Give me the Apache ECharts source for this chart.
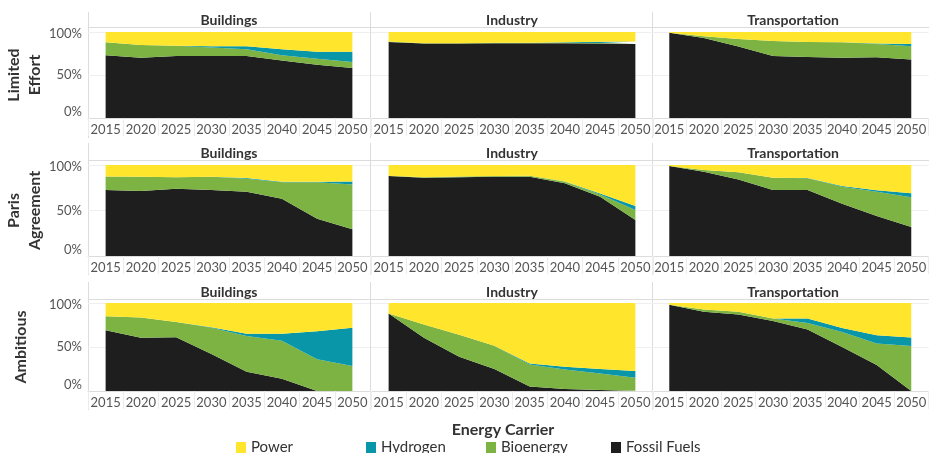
<!DOCTYPE html>
<html>
<head>
<meta charset="utf-8">
<script src="https://cdn.jsdelivr.net/npm/echarts@6/dist/echarts.min.js"></script>
<style>
  html, body { margin: 0; padding: 0; background: #fff; }
  #chart { width: 929px; height: 453px; }
</style>
</head>
<body>
<div id="chart"></div>
<script>
const years = ['2015', '2020', '2025', '2030', '2035', '2040', '2045', '2050']
const scenarios = ['Limited\nEffort', 'Paris\nAgreement', 'Ambitious']
const sectors = ['Buildings', 'Industry', 'Transportation']
const carriers = ['Fossil Fuels', 'Bioenergy', 'Hydrogen', 'Power']
const legendOrder = ['Power', 'Hydrogen', 'Bioenergy', 'Fossil Fuels']

// Limited Effort
const leBuildingsFossil = [73, 70, 72, 72, 72, 67, 62, 58]
const leBuildingsBio = [15, 15, 12, 10, 8, 6, 7, 7]
const leBuildingsHydrogen = [0, 0, 0, 1.5, 3.5, 7, 8, 12]
const leBuildingsPower = [12, 15, 16, 16.5, 16.5, 20, 23, 23]

const leIndustryFossil = [88.5, 86.5, 86.5, 87, 87, 87, 86.5, 86]
const leIndustryBio = [0.5, 0.3, 0.5, 0.5, 0.5, 0.5, 0.8, 1]
const leIndustryHydrogen = [0, 0, 0, 0, 0, 0.5, 1.5, 2]
const leIndustryPower = [11, 13.2, 13, 12.5, 12.5, 12, 11.2, 11]

const leTransportFossil = [99, 93, 83, 72, 71, 70, 70.5, 68]
const leTransportBio = [0, 2, 9, 17.5, 17.5, 18, 15.5, 15.5]
const leTransportHydrogen = [0, 0, 0, 0, 0, 0, 0.5, 2.5]
const leTransportPower = [1, 5, 8, 10.5, 11.5, 12, 13.5, 14]

// Paris Agreement
const paBuildingsFossil = [72.5, 71.5, 74, 72.5, 70.5, 63, 41, 29.5]
const paBuildingsBio = [15, 15.5, 12.5, 14.5, 14.5, 18, 40, 49]
const paBuildingsHydrogen = [0, 0, 0, 0, 0.7, 0.6, 0.6, 3.5]
const paBuildingsPower = [12.5, 13, 13.5, 13, 14.3, 18.4, 18.4, 18]

const paIndustryFossil = [88, 86, 86.5, 87, 87, 80, 65, 39.5]
const paIndustryBio = [0.3, 0.5, 0.8, 1, 1.2, 1.6, 2.6, 11]
const paIndustryHydrogen = [0, 0, 0, 0, 0, 0.4, 1.2, 4.5]
const paIndustryPower = [11.7, 13.5, 12.7, 12, 11.8, 18, 31.2, 45]

const paTransportFossil = [99, 92.5, 84, 72.5, 72.5, 57.5, 44, 32]
const paTransportBio = [0, 2, 8, 13.5, 13, 18.5, 26.5, 32.5]
const paTransportHydrogen = [0, 0, 0, 0, 0.3, 1, 1.8, 4.5]
const paTransportPower = [1, 5.5, 8, 14, 14.2, 23, 27.7, 31]

// Ambitious
const amBuildingsFossil = [69, 60.5, 61, 42, 22, 14, 0, 0]
const amBuildingsBio = [16, 23, 17.5, 30, 40.5, 43, 36, 28.5]
const amBuildingsHydrogen = [0, 0, 0, 0.5, 2.5, 8, 32, 43.5]
const amBuildingsPower = [15, 16.5, 21.5, 27.5, 35, 35, 32, 28]

const amIndustryFossil = [88, 60.5, 39, 25, 5, 2.3, 1, 0.4]
const amIndustryBio = [0, 15, 25, 26.3, 25, 22.2, 19, 14.6]
const amIndustryHydrogen = [0, 0, 0, 0, 1.3, 3, 5, 7.6]
const amIndustryPower = [12, 24.5, 36, 48.7, 68.7, 72.5, 75, 77.4]

const amTransportFossil = [98, 90, 87, 79.5, 70, 50, 29.5, 0]
const amTransportBio = [0, 2.5, 3, 2.8, 7.4, 17, 24.5, 51]
const amTransportHydrogen = [0, 0, 0, 0, 5, 4.7, 9.4, 9.8]
const amTransportPower = [2, 7.5, 10, 17.7, 17.6, 28.3, 36.6, 39.2]

const panels = [
  [
    [leBuildingsFossil, leBuildingsBio, leBuildingsHydrogen, leBuildingsPower],
    [leIndustryFossil, leIndustryBio, leIndustryHydrogen, leIndustryPower],
    [leTransportFossil, leTransportBio, leTransportHydrogen, leTransportPower]
  ],
  [
    [paBuildingsFossil, paBuildingsBio, paBuildingsHydrogen, paBuildingsPower],
    [paIndustryFossil, paIndustryBio, paIndustryHydrogen, paIndustryPower],
    [paTransportFossil, paTransportBio, paTransportHydrogen, paTransportPower]
  ],
  [
    [amBuildingsFossil, amBuildingsBio, amBuildingsHydrogen, amBuildingsPower],
    [amIndustryFossil, amIndustryBio, amIndustryHydrogen, amIndustryPower],
    [amTransportFossil, amTransportBio, amTransportHydrogen, amTransportPower]
  ]
]

const colors = {
  'Fossil Fuels': '#1e1e1e',
  'Bioenergy': '#7cb342',
  'Hydrogen': '#0896a8',
  'Power': '#ffe62c'
}

// layout (px)
const FONT = 'Lato, "Open Sans", sans-serif'
const colLeft = [88, 371, 652]
const colWidth = 282
const rows = [
  { panelTop: 12, header: 27, headerText: 20, top: 32, height: 86, bottom: 138, nameGap: 39 },
  { panelTop: 143, header: 160, headerText: 153, top: 165, height: 91, bottom: 275, nameGap: 39 },
  { panelTop: 282, header: 299, headerText: 292, top: 303, height: 88, bottom: 410, nameGap: 57 }
]

// tableau-ish label nudging: 0% sits a bit higher, 100% a bit lower
const yLabel = v => (v === 0 ? '{lo|0%}' : v === 100 ? '{hi|100%}' : v + '%')

const grid = []
const xAxis = []
const yAxis = []
const series = []
const graphic = []

rows.forEach((row, r) => {
  colLeft.forEach((left, c) => {
    const idx = r * 3 + c
    grid.push({ left: left, top: row.top, width: colWidth, height: row.height })
    xAxis.push({
      gridIndex: idx,
      type: 'category',
      data: years,
      boundaryGap: true,
      axisLine: { lineStyle: { color: '#dcdcdc' } },
      axisTick: { show: true, length: 18, lineStyle: { color: '#ececec' } },
      axisLabel: { interval: 0, color: '#555', fontSize: 13, fontFamily: FONT, margin: 5 }
    })
    yAxis.push({
      gridIndex: idx,
      type: 'value',
      min: 0,
      max: 100,
      interval: 50,
      axisLine: { show: false },
      axisTick: { show: false },
      axisLabel: {
        show: c === 0,
        formatter: yLabel,
        color: '#555',
        fontSize: 13,
        fontFamily: FONT,
        margin: 6,
        rich: {
          lo: { color: '#555', fontSize: 13, fontFamily: FONT, padding: [0, 0, 12, 0] },
          hi: { color: '#555', fontSize: 13, fontFamily: FONT, padding: [4, 0, 0, 0] }
        }
      },
      splitLine: { lineStyle: { color: '#efefef' } },
      name: c === 0 ? scenarios[r] : '',
      nameLocation: 'middle',
      nameGap: row.nameGap,
      nameRotate: 90,
      nameTextStyle: { fontSize: 16, fontWeight: 'bold', color: '#333', fontFamily: FONT, lineHeight: 21 }
    })
    carriers.forEach((name, k) => {
      series.push({
        name: name,
        type: 'line',
        xAxisIndex: idx,
        yAxisIndex: idx,
        stack: 'panel' + idx,
        data: panels[r][c][k],
        showSymbol: false,
        symbol: 'none',
        lineStyle: { width: 0 },
        itemStyle: { color: colors[name] },
        areaStyle: { color: colors[name], opacity: 1 },
        emphasis: { disabled: true },
        silent: true
      })
    })
    // panel header
    graphic.push({
      type: 'text',
      silent: true,
      style: {
        text: sectors[c],
        x: left + colWidth / 2,
        y: row.headerText,
        align: 'center',
        verticalAlign: 'middle',
        textAlign: 'center',
        textVerticalAlign: 'middle',
        font: 'bold 14px ' + FONT,
        fill: '#333'
      }
    })
  })
  // header divider
  graphic.push({
    type: 'line',
    silent: true,
    shape: { x1: 88, y1: row.header + 0.5, x2: 929, y2: row.header + 0.5 },
    style: { stroke: '#dcdcdc', lineWidth: 1 }
  })
  // panel vertical borders
  ;[88, 370, 652].forEach(x => {
    graphic.push({
      type: 'line',
      silent: true,
      shape: { x1: x + 0.5, y1: row.panelTop, x2: x + 0.5, y2: row.bottom },
      style: { stroke: '#dcdcdc', lineWidth: 1 }
    })
  })
})

graphic.push({
  type: 'text',
  silent: true,
  style: {
    text: 'Energy Carrier',
    x: 503,
    y: 430,
    align: 'center',
    verticalAlign: 'middle',
    textAlign: 'center',
    textVerticalAlign: 'middle',
    font: 'bold 16px ' + FONT,
    fill: '#333'
  }
})

const legendLeft = [236, 366, 486, 611]
const legend = legendOrder.map((name, i) => ({
  data: [name],
  left: legendLeft[i],
  top: 440,
  padding: 0,
  itemWidth: 10,
  itemHeight: 11,
  icon: 'rect',
  selectedMode: false,
  textStyle: { fontSize: 15, color: '#333', fontFamily: FONT }
}))

const chart = echarts.init(document.getElementById('chart'))
chart.setOption({
  animation: false,
  backgroundColor: '#fff',
  grid: grid,
  xAxis: xAxis,
  yAxis: yAxis,
  legend: legend,
  series: series,
  graphic: graphic
})
</script>
</body>
</html>
